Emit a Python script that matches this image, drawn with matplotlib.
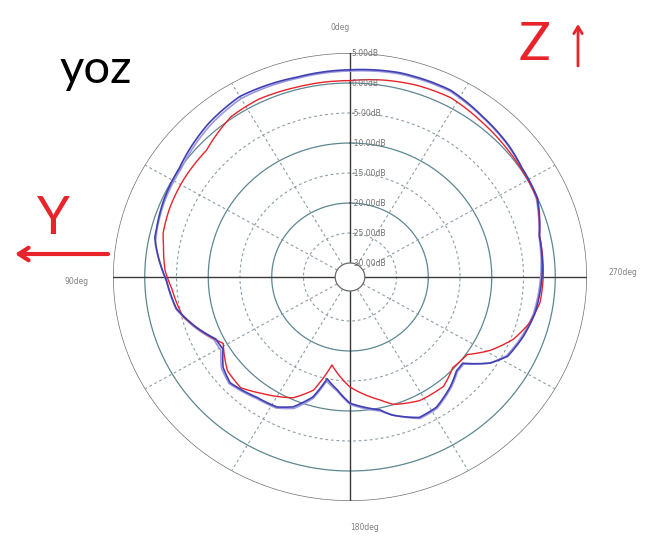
import numpy as np
import matplotlib.pyplot as plt

W, H = 653, 539

# rings (dB) and their labels
ring_levels = [5, 0, -5, -10, -15, -20, -25, -30]
ring_labels = ["5.00dB", "0.00dB", "-5.00dB", "-10.00dB", "-15.00dB",
               "-20.00dB", "-25.00dB", "-30.00dB"]
solid_rings = [0, -10, -20]
dashed_rings = [-5, -15, -25]
spoke_angles = [30, 60, 120, 150, 210, 240, 300, 330]
axis_angles = [0, 90, 180, 270]
deg_labels = ["0deg", "90deg", "180deg", "270deg"]

# dark blue trace
blue_theta = [0, 14, 30, 41, 56, 66, 75, 78, 85, 91, 101, 109, 116, 121, 127,
              133, 144, 152, 157.5, 163.7, 168, 174, 180, 192, 196, 205, 212,
              221, 227, 231, 237, 242, 250, 258, 270, 283, 294, 304, 311, 322,
              333, 347]
blue_db = [2.2, 2.0, 2.4, 1.6, 0.1, -0.3, -0.8, -0.9, -2.2, -3.4, -4.5, -6.7,
           -8.8, -9.0, -7.3, -6.5, -7.5, -7.8, -8.9, -11.5, -15.0, -13.4, -11.3,
           -9.7, -8.4, -6.5, -6.7, -8.2, -9.4, -9.5, -6.0, -4.2, -3.3, -2.6,
           -2.1, -1.7, 0.0, 0.3, 0.9, 1.6, 2.6, 2.6]

# light purple trace
lilac_theta = [0, 14, 30, 41, 56, 66, 75, 80, 86, 92, 101, 109, 116, 121, 127,
               133, 144, 152, 158, 164, 168, 174, 180, 192, 197, 205, 212, 221,
               227, 231, 237, 242, 250, 258, 270, 283, 294, 304, 311, 322, 333,
               347]
lilac_db = [2.0, 1.8, 2.0, 1.2, -0.2, -0.5, -0.9, -1.2, -2.4, -3.5, -4.4,
            -6.5, -8.5, -8.6, -7.0, -6.3, -7.3, -7.6, -8.7, -11.3, -14.6,
            -13.2, -11.1, -9.5, -8.2, -6.3, -6.5, -8.0, -9.2, -9.3, -6.0,
            -4.4, -3.5, -2.8, -2.3, -1.8, -0.2, 0.2, 0.8, 1.5, 2.4, 2.4]

# red trace
red_theta = [0, 15, 26, 35, 47, 58, 68, 76, 80, 88, 94, 104, 114, 119, 129,
             137, 144, 156, 163, 169, 180, 193, 198, 208, 219, 227, 235, 241,
             248, 255, 262, 270, 283, 294, 304, 311, 321, 332, 342, 351]
red_db = [0.4, 0.4, 0.6, 0.3, -1.4, -1.5, -1.7, -2.0, -2.5, -3.2, -4.2, -5.2,
          -8.1, -9.5, -7.5, -7.1, -8.4, -10.3, -12.6, -17.4, -14.0, -11.3,
          -10.0, -9.0, -8.9, -10.2, -9.8, -7.1, -4.6, -3.0, -2.1, -1.9, -1.7,
          -0.1, 0.1, 0.35, 0.8, 1.5, 1.3, 0.9]

RED = "#e8232a"
RING = "#5d8791"
DASH = "#8d9da6"

fig = plt.figure(figsize=(W / 100, H / 100), dpi=100)
ax = fig.add_axes([113 / W, 38 / H, 474 / W, 448 / H], projection="polar")
ax.set_aspect("auto")
ax.set_theta_zero_location("N")
ax.set_theta_direction(1)
ax.set_ylim(-32.33, 5)
ax.grid(False)
ax.set_xticks([])
ax.set_yticks([])
ax.spines["polar"].set_visible(False)

tt = np.linspace(0, 2 * np.pi, 721)
# grid rings
ax.plot(tt, np.full_like(tt, 5), color="#707070", lw=1.0, zorder=1)
for lvl in solid_rings:
    ax.plot(tt, np.full_like(tt, lvl), color=RING, lw=0.9, zorder=1)
for lvl in dashed_rings:
    ax.plot(tt, np.full_like(tt, lvl), color=DASH, lw=0.8,
            ls=(0, (2.5, 2.5)), zorder=1)
for a in spoke_angles:
    ax.plot([np.radians(a)] * 2, [-30, 5], color=DASH, lw=0.8,
            ls=(0, (2.5, 2.5)), zorder=1)
for a in axis_angles:
    ax.plot([np.radians(a)] * 2, [-30, 5], color="#3a3a3a", lw=1.0, zorder=2)


def trace(theta, db, **kw):
    th = np.radians(np.r_[theta, theta[0] + 360])
    ln, = ax.plot(th, np.r_[db, db[0]], **kw)
    # let the polar transform draw each segment as a spiral, not a chord
    ln.get_path()._interpolation_steps = 40
    return ln


trace(lilac_theta, lilac_db, color="#9d97dc", lw=1.2, zorder=3)
trace(red_theta, red_db, color=RED, lw=1.0, zorder=4)
trace(blue_theta, blue_db, color="#4040b4", lw=1.2, zorder=4)

# centre hole
ax.fill(tt, np.full_like(tt, -30), facecolor="white", edgecolor="#6a6a6a",
        lw=0.9, zorder=6)

for lvl, lbl in zip(ring_levels, ring_labels):
    ax.annotate(lbl, xy=(0, lvl), xytext=(1, 0), textcoords="offset points",
                ha="left", va="center", fontsize=5.5, color="#707070",
                zorder=7, annotation_clip=False)

# angle labels
deg_pos = [(340, 27), (77, 282), (365, 527), (623, 273)]
for lbl, (px, py) in zip(deg_labels, deg_pos):
    fig.text(px / W, 1 - py / H, lbl, ha="center", va="center",
             fontsize=5.5, color="#808080")

fig.text(60 / W, 1 - 83 / H, "yoz", fontsize=34, family="Lato",
         color="black", ha="left", va="baseline")
fig.text(53 / W, 1 - 219 / H, "Y", fontsize=38, family="Lato", color=RED,
         ha="center", va="center")
fig.text(535 / W, 1 - 45 / H, "Z", fontsize=38, family="Lato", color=RED,
         ha="center", va="center")
ax.annotate("", xy=(15 / W, 1 - 254 / H), xycoords="figure fraction",
            xytext=(108 / W, 1 - 254 / H), textcoords="figure fraction",
            arrowprops=dict(arrowstyle="->,head_length=0.7,head_width=0.45",
                            color=RED, lw=3, shrinkA=0, shrinkB=0))
ax.annotate("", xy=(578 / W, 1 - 24 / H), xycoords="figure fraction",
            xytext=(578 / W, 1 - 66 / H), textcoords="figure fraction",
            arrowprops=dict(arrowstyle="->,head_length=0.5,head_width=0.3",
                            color=RED, lw=2, shrinkA=0, shrinkB=0))

fig.savefig("out.png", dpi=100)
